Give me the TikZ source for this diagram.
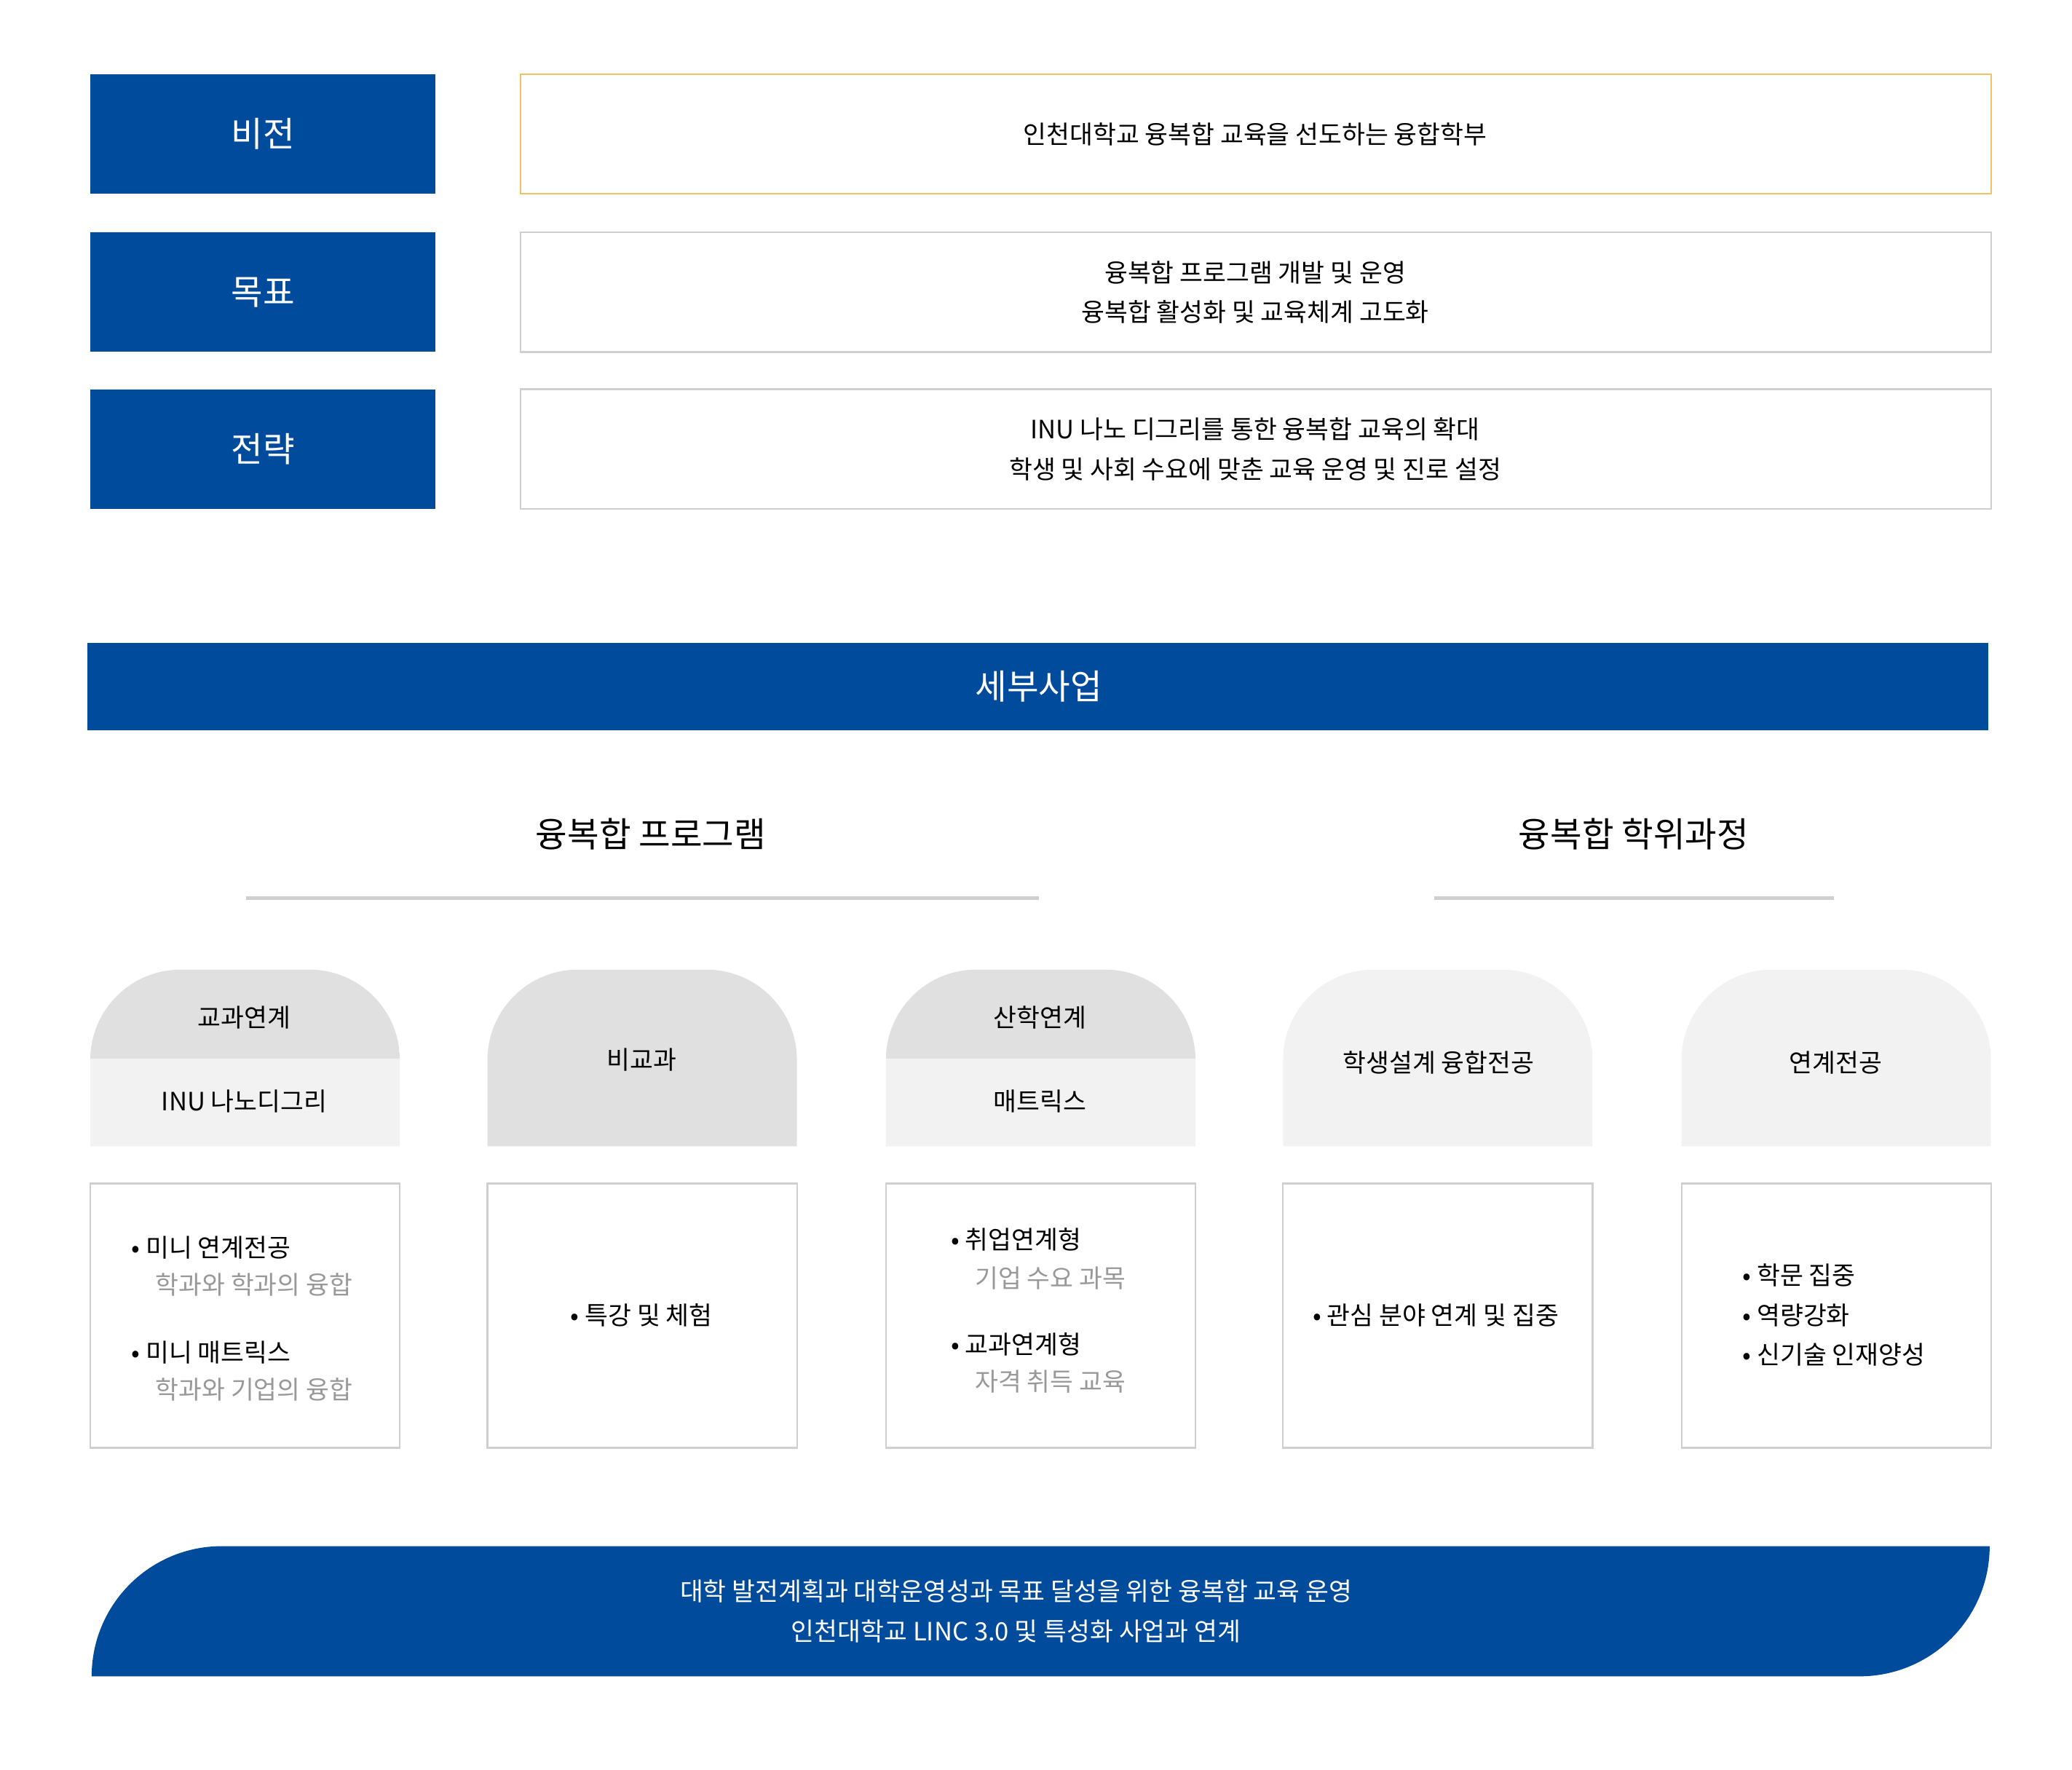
\documentclass[tikz,border=0pt]{standalone}
\usepackage{fontspec}
\setmainfont{Noto Sans CJK KR}
\begin{document}
\begin{tikzpicture}[x=0.5pt,y=0.5pt,
  blue/.style={fill=inublue},
  lbl/.style={text=white,font=\fontsize{13}{15}\selectfont},
  body/.style={font=\fontsize{9.5}{15}\selectfont,align=center},
  sub/.style={font=\fontsize{9.5}{12}\selectfont,text=gray1},
  head/.style={font=\fontsize{13}{15}\selectfont},
  outl/.style={draw=line1,line width=0.6pt,fill=white}]
\definecolor{inublue}{HTML}{004B9B}
\definecolor{line1}{HTML}{CFCFCF}
\definecolor{orng}{HTML}{F2C166}
\definecolor{dark}{HTML}{E0E0E0}
\definecolor{light}{HTML}{F2F2F2}
\definecolor{gray1}{HTML}{999999}
\useasboundingbox (0,0) rectangle (1560,-1332);
% top rows
\foreach \t/\y/\n in {비전/56/a,목표/175/b,전략/293/c}{
  \fill[inublue] (68,-\y) rectangle (328,-\y-90);
  \node[lbl] (l\n) at (198,-\y-45) {\t};
}
\draw[draw=orng,line width=0.6pt] (392,-56) rectangle (1499,-146);
\draw[outl] (392,-175) rectangle (1499,-265);
\draw[outl] (392,-293) rectangle (1499,-383);
\node[body] (ra) at (945,-101) {인천대학교 융복합 교육을 선도하는 융합학부};
\node[body] (rb) at (945,-220) {융복합 프로그램 개발 및 운영\\융복합 활성화 및 교육체계 고도화};
\node[body] (rc) at (945,-338) {INU 나노 디그리를 통한 융복합 교육의 확대\\학생 및 사회 수요에 맞춘 교육 운영 및 진로 설정};
% bar
\fill[inublue] (66,-484) rectangle (1497,-550);
\node[lbl] (bar) at (782,-517) {세부사업};
\node[head] (h1) at (490,-628) {융복합 프로그램};
\node[head] (h2) at (1230,-628) {융복합 학위과정};
\draw[line1,line width=1.5pt] (185,-676) -- (782,-676);
\draw[line1,line width=1.5pt] (1080,-676) -- (1381,-676);
% cards
\newcommand{\cardshape}[1]{(#1,-863) [rounded corners=34pt]-- (#1,-730) -- ({#1+233},-730) [sharp corners]-- ({#1+233},-863) -- cycle}
\foreach \x/\c in {68/light,367/dark,667/light,966/light,1266/light}{
  \fill[\c] (\x,-863) [rounded corners=34pt]-- (\x,-730) -- (\x+233,-730) [sharp corners]-- (\x+233,-863) -- cycle;
  \draw[outl] (\x,-891) rectangle (\x+233,-1090);
}
\foreach \x in {68,667}{
  \begin{scope}
  \clip (\x,-863) [rounded corners=34pt]-- (\x,-730) -- (\x+233,-730) [sharp corners]-- (\x+233,-863) -- cycle;
  \fill[dark] (\x,-720) rectangle (\x+233,-797);
  \end{scope}
}
\node[body] (c1a) at (184,-766) {교과연계};
\node[body] (c1b) at (184,-829) {INU 나노디그리};
\node[body] (c2) at (483,-798) {비교과};
\node[body] (c3a) at (783,-766) {산학연계};
\node[body] (c3b) at (783,-829) {매트릭스};
\node[body] (c4) at (1083,-800) {학생설계 융합전공};
\node[body] (c5) at (1382,-800) {연계전공};
% card contents
\node[body,anchor=west] (t1) at (92,-939) {• 미니 연계전공};
\node[sub,anchor=west] (t2) at (110,-967) {학과와 학과의 융합};
\node[body,anchor=west] (t3) at (92,-1018) {• 미니 매트릭스};
\node[sub,anchor=west] (t4) at (110,-1046) {학과와 기업의 융합};
\node[body] (t5) at (483,-990) {• 특강 및 체험};
\node[body,anchor=west] (t6) at (709,-933) {• 취업연계형};
\node[sub,anchor=west] (t7) at (727,-962) {기업 수요 과목};
\node[body,anchor=west] (t8) at (709,-1012) {• 교과연계형};
\node[sub,anchor=west] (t9) at (727,-1040) {자격 취득 교육};
\node[body] (t10) at (1081,-990) {• 관심 분야 연계 및 집중};
\node[body,anchor=west,align=left,font=\fontsize{9.5}{15}\selectfont] (t11) at (1305,-990) {• 학문 집중\\• 역량강화\\• 신기술 인재양성};
% bottom
\fill[inublue] (69,-1262) arc[start angle=180,end angle=90,radius=49pt] -- (1498,-1164) arc[start angle=0,end angle=-90,radius=49pt] -- cycle;
\node[body,text=white] (bt) at (765,-1213) {대학 발전계획과 대학운영성과 목표 달성을 위한 융복합 교육 운영\\인천대학교 LINC 3.0 및 특성화 사업과 연계};
\end{tikzpicture}
\end{document}
